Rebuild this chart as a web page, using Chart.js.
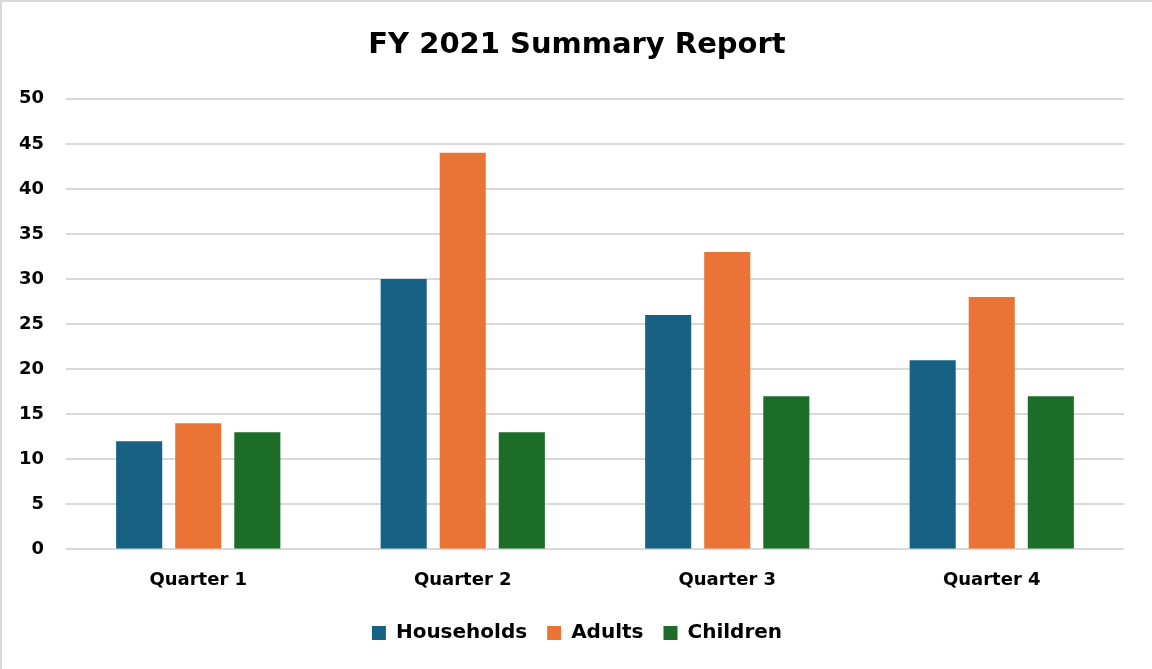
<!DOCTYPE html>
<html>
<head>
<meta charset="utf-8">
<script src="https://cdn.jsdelivr.net/npm/chart.js@4"></script>
<style>
  html, body { margin: 0; padding: 0; background: #fff; }
  #wrap { position: relative; width: 1152px; height: 669px; box-sizing: border-box;
          border-left: 2px solid #d9d9d9; border-top: 2px solid #d9d9d9; }
  canvas { display: block; }
</style>
</head>
<body>
<div id="wrap"><canvas id="c" width="1150" height="667"></canvas></div>
<script>
const categories = ["Quarter 1", "Quarter 2", "Quarter 3", "Quarter 4"];
const households = [12, 30, 26, 21];
const adults = [14, 44, 33, 28];
const children = [13, 13, 17, 17];

const FONT = "'DejaVu Sans', 'Liberation Sans', sans-serif";

new Chart(document.getElementById('c'), {
  type: 'bar',
  data: {
    labels: categories,
    datasets: [
      { label: 'Households', data: households, backgroundColor: '#176184' },
      { label: 'Adults', data: adults, backgroundColor: '#e97435' },
      { label: 'Children', data: children, backgroundColor: '#1b6d28' }
    ]
  },
  options: {
    responsive: false,
    animation: false,
    devicePixelRatio: 1,
    layout: { padding: { left: 16, right: 16, top: 10, bottom: 16 } },
    datasets: { bar: { categoryPercentage: 0.67, barPercentage: 0.78 } },
    plugins: {
      title: {
        display: true,
        text: 'FY 2021 Summary Report',
        color: '#000',
        font: { family: FONT, size: 29, weight: 'bold' },
        padding: { top: 16, bottom: 36 }
      },
      legend: {
        position: 'bottom',
        labels: {
          color: '#000',
          font: { family: FONT, size: 20, weight: 'bold' },
          boxWidth: 14, boxHeight: 14, padding: 20
        }
      },
      tooltip: { enabled: false }
    },
    scales: {
      x: {
        grid: { display: false },
        border: { display: false },
        ticks: { color: '#000', font: { family: FONT, size: 18, weight: 'bold' }, padding: 12 }
      },
      y: {
        min: 0, max: 50,
        ticks: { stepSize: 5, color: '#000', font: { family: FONT, size: 18, weight: 'bold' }, padding: 22 },
        grid: { color: '#d9d9d9', lineWidth: 2, drawTicks: false },
        border: { display: false },
        afterFit: (axis) => { axis.width = 48; }
      },
      // empty right-hand margin beside the plot area
      yRight: {
        position: 'right',
        grid: { display: false },
        border: { display: false },
        ticks: { display: false },
        afterFit: (axis) => { axis.width = 12; }
      }
    }
  }
});
</script>
</body>
</html>
